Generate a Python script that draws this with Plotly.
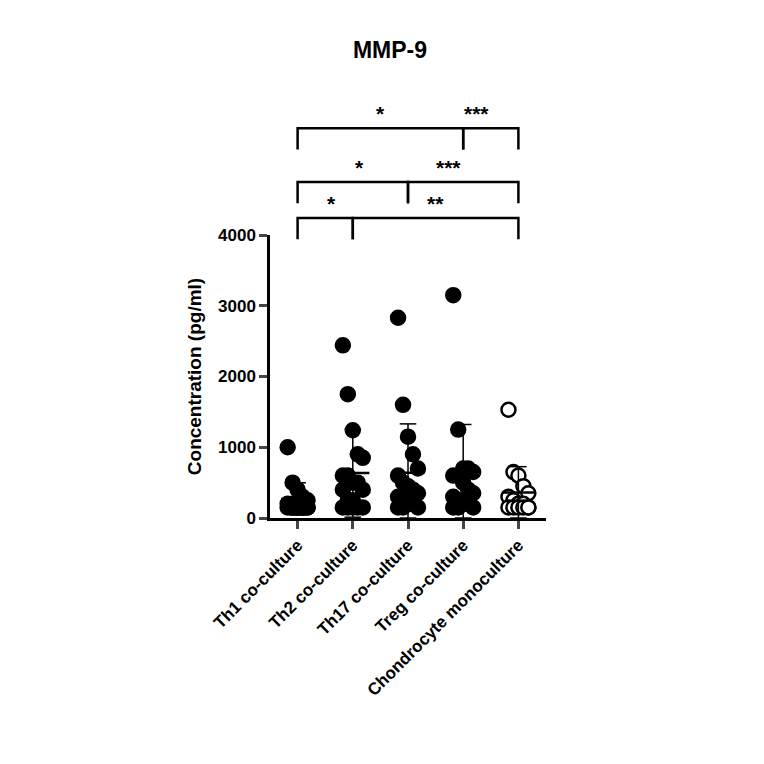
import numpy as np
import plotly.graph_objects as go

categories = ["Th1 co-culture", "Th2 co-culture", "Th17 co-culture", "Treg co-culture", "Chondrocyte monoculture"]
th1 = [1000, 500, 400, 300, 250, 200, 200, 150, 150, 150, 150, 150, 150, 150, 150]
th2 = [2440, 1750, 1240, 900, 850, 600, 600, 500, 500, 400, 400, 250, 250, 150, 150, 150, 150, 150]
th17 = [2830, 1600, 1150, 900, 700, 600, 500, 450, 400, 350, 300, 250, 200, 200, 150, 150, 150]
treg = [3150, 1250, 700, 700, 650, 600, 600, 500, 400, 350, 300, 250, 200, 200, 150, 150, 150]
chondro = [1530, 650, 600, 450, 350, 300, 250, 200, 200, 150, 150, 150, 150, 150, 150]
groups = [th1, th2, th17, treg, chondro]
# (i, j, level, label)
comparisons = [(0, 1, 0, "*"), (1, 4, 0, "**"), (0, 2, 1, "*"), (2, 4, 1, "***"), (0, 3, 2, "*"), (3, 4, 2, "***")]
level_y = [4240, 4750, 5510]

fig = go.Figure()
for i, (cat, vals) in enumerate(zip(categories, groups)):
    v = np.array(vals, float)
    open_m = i == 4
    fig.add_trace(go.Scatter(x=[i + (k % 5 - 2) * 0.09 for k in range(len(v))], y=v, mode="markers",
                             marker=dict(size=14, color="white" if open_m else "black",
                                         line=dict(color="black", width=2.5), symbol="circle"),
                             showlegend=False, cliponaxis=False))
    m, s = v.mean(), v.std(ddof=1)
    fig.add_trace(go.Scatter(x=[i - 0.3, i + 0.3], y=[m, m], mode="lines", line=dict(color="black", width=2.5), showlegend=False))
    fig.add_trace(go.Scatter(x=[i, i, None, i - 0.15, i + 0.15, None, i - 0.15, i + 0.15],
                             y=[max(m - s, 0), m + s, None, m + s, m + s, None, max(m - s, 0), max(m - s, 0)],
                             mode="lines", line=dict(color="black", width=1.5), showlegend=False))

def px(i):
    return (i + 0.5) / 5
ymax = 4000
for i, j, lev, lab in comparisons:
    top = level_y[lev] / ymax
    drop = 300 / ymax
    xi, xj = px(i), px(j)
    fig.add_shape(type="path", xref="paper", yref="paper",
                  path=f"M {xi} {top-drop} L {xi} {top} L {xj} {top} L {xj} {top-drop}",
                  line=dict(color="black", width=2.5))
    fig.add_annotation(x=(xi + xj) / 2, y=top + 0.005, xref="paper", yref="paper", text=f"<b>{lab}</b>",
                       showarrow=False, yanchor="bottom", font=dict(size=21, color="black"))

fig.update_layout(
    width=764, height=764, plot_bgcolor="white", paper_bgcolor="white",
    margin=dict(l=262, r=226, t=227, b=254),
    font=dict(family="Liberation Sans, Arial", color="black"),
    title=dict(text="<b>MMP-9</b>", x=0.5, xanchor="center", y=0.955, font=dict(size=23)),
    xaxis=dict(range=[-0.5, 4.5], tickvals=list(range(5)), ticktext=[f"<b>{c}</b>" for c in categories],
               tickangle=-45, showline=True, linecolor="black", linewidth=2.5, ticks="outside",
               ticklen=8, tickwidth=2.5, showgrid=False, zeroline=False, tickfont=dict(size=17)),
    yaxis=dict(range=[0, 4000], tickvals=[0, 1000, 2000, 3000, 4000], ticktext=[f"<b>{t}</b>" for t in [0, 1000, 2000, 3000, 4000]],
               showline=True, linecolor="black", linewidth=2.5, ticks="outside", ticklen=8, tickwidth=2.5,
               showgrid=False, zeroline=False, tickfont=dict(size=17),
               title=dict(text="<b>Concentration (pg/ml)</b>", font=dict(size=19), standoff=12)),
)
fig.write_html("out.html")
